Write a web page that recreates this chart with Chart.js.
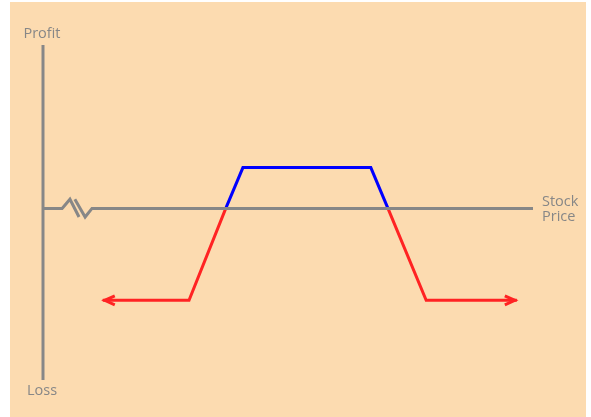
<!DOCTYPE html>
<html>
<head>
<meta charset="utf-8">
<script src="https://cdn.jsdelivr.net/npm/chart.js@4"></script>
<style>
  body { margin: 0; background: #fff; }
  #wrap { position: absolute; left: 10px; top: 2px; width: 576px; height: 415px; background: #fcdbb0; }
</style>
</head>
<body>
<div id="wrap"><canvas id="payoff" width="576" height="415"></canvas></div>
<script>
// Payoff line (stock price -> profit)
const prices = [12.2, 29.8, 37.3, 40.8, 66.9, 70.4, 78.2, 96.7];
const profit = [-4.5, -4.5, 0, 2, 2, 0, -4.5, -4.5];

// axis lines, the horizontal one has a break mark near the origin
const axisX1 = [0, 3.9, 5.5, 7.35];
const axisY1 = [0, 0, 0.45, -0.42];
const axisX2 = [6.5, 8.6, 10, 100];
const axisY2 = [0.45, -0.42, 0, 0];

const GRAY = '#878787';
const RED = 'rgb(255, 35, 35)';
const BLUE = '#0000ff';

const pts = (xs, ys) => xs.map((x, i) => ({ x: x, y: ys[i] }));

const labelsPlugin = {
    id: 'labels',
    afterDraw(chart) {
        const c = chart.ctx;
        const x = chart.scales.x, y = chart.scales.y;
        const area = chart.chartArea;
        c.save();
        c.fillStyle = GRAY;
        c.font = '14.5px "Open Sans"';
        c.textBaseline = 'middle';
        c.textAlign = 'center';
        c.fillText('Profit', x.getPixelForValue(0) - 1, area.top - 11);
        c.fillText('Loss', x.getPixelForValue(0) - 1, area.bottom + 11);
        c.textAlign = 'left';
        c.fillText('Stock', area.right + 9, y.getPixelForValue(0) - 7);
        c.fillText('Price', area.right + 9, y.getPixelForValue(0) + 8.5);

        // arrowheads at both ends of the payoff line
        const pe = chart.getDatasetMeta(3).data;
        const arrow = (p, dir) => {
            const tip = p.x - dir * 2;
            c.beginPath();
            c.moveTo(tip - dir * 10, p.y - 4.5);
            c.lineTo(tip, p.y);
            c.lineTo(tip - dir * 10, p.y + 4.5);
            c.stroke();
        };
        c.strokeStyle = RED;
        c.lineWidth = 3;
        arrow(pe[0], -1);
        arrow(pe[pe.length - 1], 1);
        c.restore();
    }
};

new Chart(document.getElementById('payoff'), {
    type: 'line',
    data: {
        datasets: [
            { data: [{ x: 0, y: 8 }, { x: 0, y: -8.4 }], borderColor: GRAY },
            { data: pts(axisX1, axisY1), borderColor: GRAY },
            { data: pts(axisX2, axisY2), borderColor: GRAY },
            {
                data: pts(prices, profit),
                borderColor: RED,
                segment: {
                    borderColor: ctx => (ctx.p0.parsed.y >= 0 && ctx.p1.parsed.y >= 0) ? BLUE : RED
                }
            }
        ]
    },
    options: {
        responsive: false,
        animation: false,
        layout: { padding: { left: 33, right: 53, top: 43, bottom: 37 } },
        datasets: {
            line: { borderWidth: 3, pointRadius: 0, tension: 0, clip: false, fill: false }
        },
        plugins: { legend: { display: false }, tooltip: { enabled: false } },
        scales: {
            x: { type: 'linear', display: false, min: 0, max: 100 },
            y: { display: false, min: -8.4, max: 8 }
        }
    },
    plugins: [labelsPlugin]
});
</script>
</body>
</html>
